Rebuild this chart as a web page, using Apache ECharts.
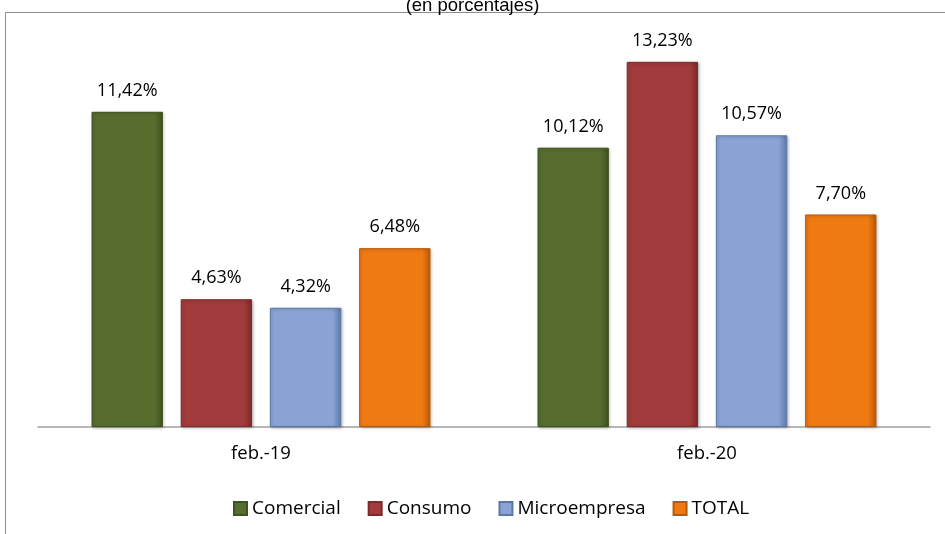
<!DOCTYPE html>
<html>
<head>
<meta charset="utf-8">
<script src="https://cdn.jsdelivr.net/npm/echarts@6/dist/echarts.min.js"></script>
<style>html,body{margin:0;padding:0;background:#fff}#c{width:945px;height:534px}</style>
</head>
<body>
<div id="c"></div>
<script>
const categories = ['feb.-19', 'feb.-20'];
const comercial = [11.42, 10.12];
const consumo = [4.63, 13.23];
const microempresa = [4.32, 10.57];
const total = [6.48, 7.70];
const seriesNames = ['Comercial', 'Consumo', 'Microempresa', 'TOTAL'];

const colors = {
  Comercial: ['#6a8740', '#566d2e', '#3f5220'],
  Consumo: ['#b85350', '#a23b3b', '#7c2a2a'],
  Microempresa: ['#b3c8ec', '#89a4d4', '#5d78a8'],
  TOTAL: ['#f89a45', '#f07a12', '#b85a08']
};

function fmt(p) { return p.value.toFixed(2).replace('.', ',') + '%'; }

function mk(name, data) {
  const c = colors[name];
  return {
    name: name,
    type: 'bar',
    data: data,
    barWidth: '16%',
    barGap: '25%',
    itemStyle: {
      color: {
        type: 'linear', x: 0, y: 0, x2: 1, y2: 0,
        colorStops: [
          { offset: 0, color: c[1] },
          { offset: 0.88, color: c[1] },
          { offset: 1, color: c[2] }
        ]
      },
      borderColor: c[2],
      borderWidth: 1,
      shadowColor: 'rgba(0,0,0,0.25)',
      shadowBlur: 3,
      shadowOffsetX: 1,
      shadowOffsetY: 1
    },
    label: {
      show: true,
      position: 'top',
      distance: 12,
      formatter: fmt,
      color: '#000',
      fontFamily: 'Open Sans',
      fontSize: 18
    }
  };
}

const chart = echarts.init(document.getElementById('c'));
chart.setOption({
  animation: false,
  title: {
    text: '(en porcentajes)',
    left: 'center',
    top: -9,
    textStyle: { fontFamily: 'Liberation Sans', fontSize: 18.5, fontWeight: 'normal', color: '#000' }
  },
  graphic: [{
    type: 'rect',
    shape: { x: 5.5, y: 12.5, width: 1000, height: 600 },
    style: { fill: 'none', stroke: '#8c8c8c', lineWidth: 1 },
    silent: true,
    z: -1
  }],
  grid: { left: 38, right: 15, top: 13, bottom: 107 },
  legend: {
    data: seriesNames,
    left: 228,
    top: 494,
    itemWidth: 13,
    itemHeight: 13,
    itemGap: 27,
    icon: 'rect',
    textStyle: { fontFamily: 'Open Sans', fontSize: 19, color: '#000' }
  },
  xAxis: {
    type: 'category',
    data: categories,
    axisLine: { lineStyle: { color: '#a0a0a0', width: 1.5 } },
    axisTick: { show: false },
    axisLabel: { fontFamily: 'Open Sans', fontSize: 18.5, color: '#000', margin: 17 }
  },
  yAxis: {
    type: 'value',
    min: 0,
    max: 15,
    show: false,
    splitLine: { show: false }
  },
  series: [
    mk('Comercial', comercial),
    mk('Consumo', consumo),
    mk('Microempresa', microempresa),
    mk('TOTAL', total)
  ]
});
</script>
</body>
</html>
